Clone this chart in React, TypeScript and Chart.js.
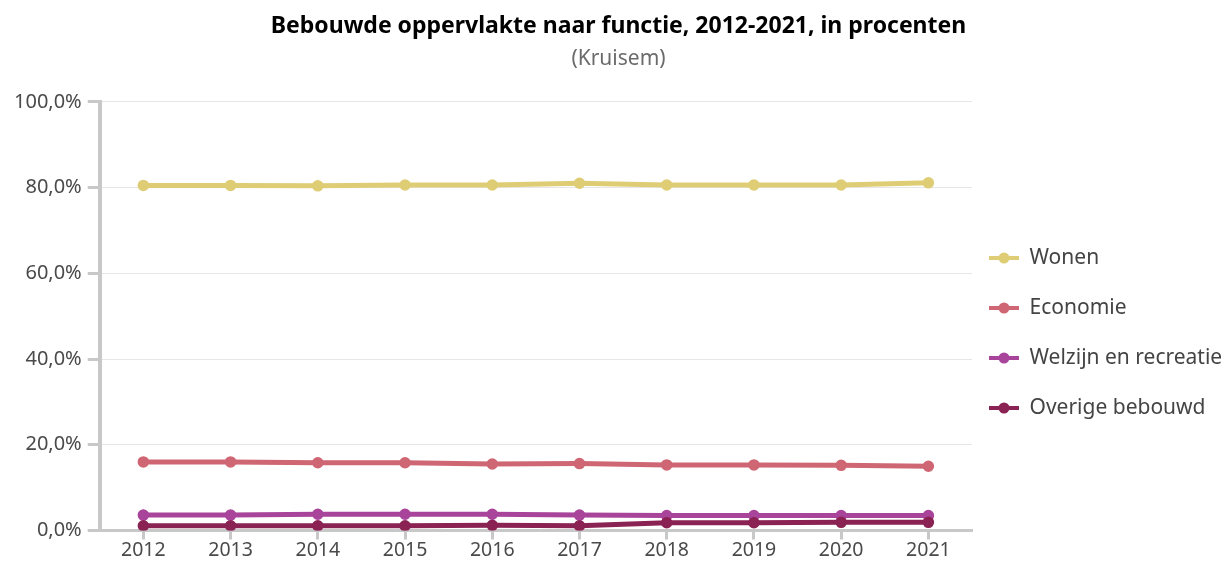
import React, { useEffect, useRef } from 'react';
import { Chart, registerables } from 'chart.js';

Chart.register(...registerables);

const years = ['2012', '2013', '2014', '2015', '2016', '2017', '2018', '2019', '2020', '2021'];
const seriesNames = ['Wonen', 'Economie', 'Welzijn en recreatie', 'Overige bebouwd'];
const wonen = [80.5, 80.5, 80.4, 80.6, 80.6, 81.0, 80.6, 80.6, 80.6, 81.1];
const economie = [16.0, 16.0, 15.8, 15.8, 15.5, 15.6, 15.3, 15.3, 15.2, 15.0];
const welzijn = [3.6, 3.6, 3.8, 3.8, 3.8, 3.6, 3.5, 3.5, 3.5, 3.5];
const overige = [1.1, 1.1, 1.1, 1.1, 1.2, 1.1, 1.8, 1.8, 1.9, 1.9];
const colors = ['#dfcd75', '#cf6673', '#a9449b', '#8a2253'];
const yTicks = [0, 20, 40, 60, 80, 100];

const FONT = "'Noto Sans', sans-serif";

function markerImage(color: string): HTMLCanvasElement {
  const c = document.createElement('canvas');
  c.width = 30;
  c.height = 14;
  const ctx = c.getContext('2d')!;
  ctx.strokeStyle = color;
  ctx.lineWidth = 4;
  ctx.beginPath();
  ctx.moveTo(0, 7);
  ctx.lineTo(30, 7);
  ctx.stroke();
  ctx.fillStyle = color;
  ctx.beginPath();
  ctx.arc(15, 7, 5.5, 0, Math.PI * 2);
  ctx.fill();
  return c;
}

const bgPlugin = {
  id: 'bg',
  beforeDraw(chart: any) {
    const ctx = chart.ctx;
    ctx.save();
    ctx.fillStyle = '#ffffff';
    ctx.fillRect(0, 0, chart.width, chart.height);
    ctx.restore();
  },
};

// Pull the legend items a little closer to the plot area.
const legendShift = {
  id: 'legendShift',
  afterLayout(chart: any) {
    const lg = chart.legend;
    if (lg) {
      lg.left -= 12;
    }
  },
};

export default function App() {
  const ref = useRef<HTMLCanvasElement | null>(null);

  useEffect(() => {
    if (!ref.current) return;
    const allData = [wonen, economie, welzijn, overige];
    const markers = colors.map(markerImage);
    const chart = new Chart(ref.current, {
      type: 'line',
      data: {
        labels: years,
        datasets: seriesNames.map((name, i) => ({
          label: name,
          data: allData[i],
          borderColor: colors[i],
          backgroundColor: colors[i],
          pointBackgroundColor: colors[i],
          pointBorderColor: colors[i],
          borderWidth: 5,
          pointRadius: 5,
          pointBorderWidth: 1.5,
          pointHoverRadius: 5,
          tension: 0,
          fill: false,
          order: 3 - i,
        })),
      },
      options: {
        animation: false,
        responsive: true,
        maintainAspectRatio: false,
        layout: { padding: { left: 8, right: 2, top: 3, bottom: 0 } },
        plugins: {
          title: {
            display: true,
            text: 'Bebouwde oppervlakte naar functie, 2012-2021, in procenten',
            color: '#000000',
            font: { family: FONT, size: 23, weight: 'bold' },
            padding: { top: 10, bottom: 6 },
          },
          subtitle: {
            display: true,
            text: '(Kruisem)',
            color: '#6b6b6b',
            font: { family: FONT, size: 21 },
            padding: { top: 0, bottom: 30 },
          },
          legend: {
            display: true,
            position: 'right',
            align: 'center',
            maxWidth: 257,
            title: {
              display: true,
              text: ' ',
              font: { size: 10 },
              padding: { top: 90, bottom: 0 },
            },
            labels: {
              usePointStyle: true,
              pointStyleWidth: 30,
              padding: 29,
              color: '#444444',
              font: { family: FONT, size: 21 },
              sort: (a: any, b: any) => a.datasetIndex - b.datasetIndex,
              generateLabels: (chart: any) =>
                chart.data.datasets.map((ds: any, i: number) => ({
                  text: ds.label,
                  datasetIndex: i,
                  pointStyle: markers[i],
                  fillStyle: colors[i],
                  strokeStyle: colors[i],
                  lineWidth: 0,
                  fontColor: '#444444',
                  hidden: false,
                })),
            },
          },
          tooltip: { enabled: false },
        },
        scales: {
          x: {
            type: 'category',
            offset: true,
            grid: {
              display: true,
              drawOnChartArea: false,
              drawTicks: true,
              offset: false,
              tickLength: 9,
              tickWidth: 3,
              tickColor: '#c8c8c8',
            },
            border: { display: true, color: '#c8c8c8', width: 3 },
            ticks: {
              color: '#4a4a4a',
              font: { family: FONT, size: 19.5, lineHeight: 1.0 },
              padding: 1,
              maxRotation: 0,
            },
          },
          y: {
            min: 0,
            max: 100,
            afterBuildTicks: (axis: any) => {
              axis.ticks = yTicks.map((v) => ({ value: v }));
            },
            grid: {
              display: true,
              color: '#e6e6e6',
              lineWidth: 1,
              drawTicks: true,
              tickLength: 12,
              tickWidth: 3,
              tickColor: '#c8c8c8',
            },
            border: { display: true, color: '#c8c8c8', width: 4 },
            ticks: {
              color: '#4a4a4a',
              font: { family: FONT, size: 20 },
              padding: 6,
              callback: (v: any) => Number(v).toFixed(1).replace('.', ',') + '%',
            },
          },
        },
      },
      plugins: [bgPlugin, legendShift],
    } as any);
    return () => chart.destroy();
  }, []);

  return (
    <div style={{ position: 'fixed', left: 0, top: 0, width: 1231, height: 561, background: '#fff' }}>
      <canvas ref={ref} />
    </div>
  );
}
